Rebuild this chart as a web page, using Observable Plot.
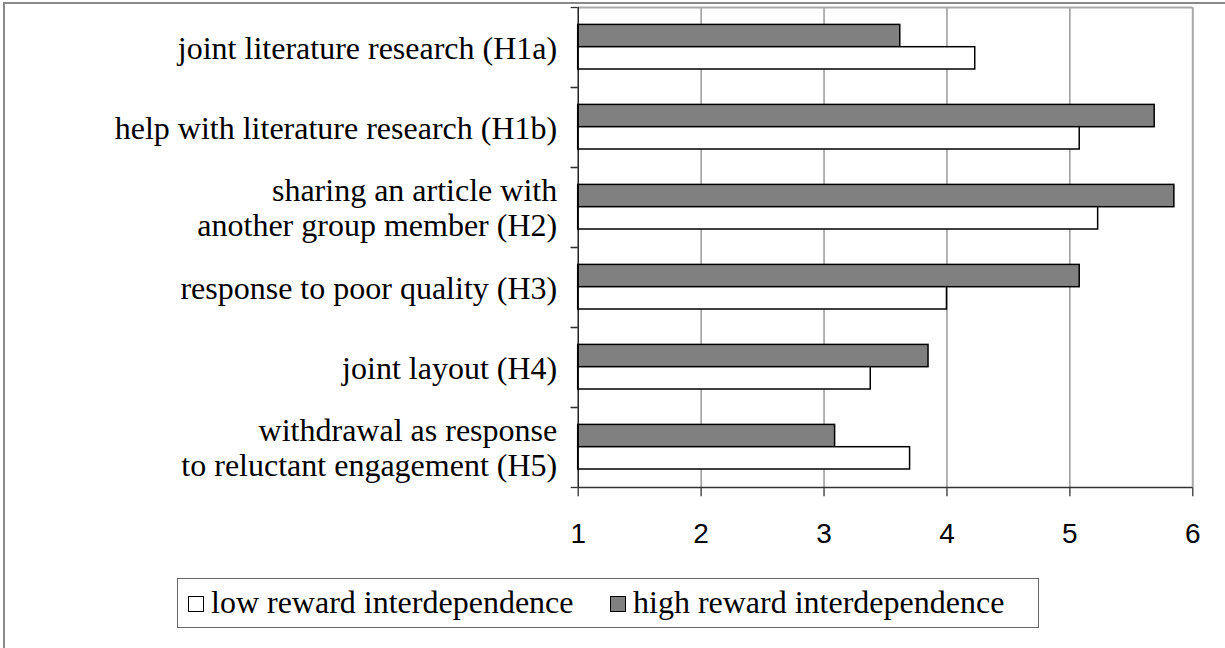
<!DOCTYPE html>
<html>
<head>
<meta charset="utf-8">
<script src="https://cdn.jsdelivr.net/npm/d3@7"></script>
<script src="https://cdn.jsdelivr.net/npm/@observablehq/plot@0.6"></script>
<style>
  html, body { margin: 0; padding: 0; background: #fff; }
  #wrap { position: relative; width: 1225px; height: 648px; overflow: hidden; }
  #outer { position: absolute; left: 3px; top: 2px; width: 1240px; height: 660px;
           border-top: 2px solid #8a8a8a; border-left: 2px solid #8a8a8a; box-sizing: border-box; }
  #chart { position: absolute; left: 0; top: 0; }
  #legend { position: absolute; left: 177px; top: 578px; width: 862px; height: 50px; box-sizing: border-box;
            border: 1.5px solid #666; font-family: "Liberation Serif", "Times New Roman", serif; font-size: 32px;
            color: #000; }
  .item { position: absolute; top: 0; height: 47px; display: flex; align-items: center; white-space: nowrap; }
  .sw { width: 16px; height: 16px; box-sizing: border-box; border: 1.5px solid #000; margin-right: 7px; margin-top: 2px; }
</style>
</head>
<body>
<div id="wrap">
  <div id="outer"></div>
  <div id="chart"></div>
  <div id="legend"></div>
</div>
<script>
const categories = [
  "joint literature research (H1a)",
  "help with literature research (H1b)",
  "sharing an article with\nanother group member (H2)",
  "response to poor quality (H3)",
  "joint layout (H4)",
  "withdrawal as response\nto reluctant engagement (H5)"
];
const seriesNames = ["low reward interdependence", "high reward interdependence"];
const seriesColors = ["#ffffff", "#808080"];
const lowValues  = [4.23, 5.08, 5.23, 4.00, 3.38, 3.70];
const highValues = [3.62, 5.69, 5.85, 5.08, 3.85, 3.09];
const xTicks = [1, 2, 3, 4, 5, 6];
const xMin = 1, xMax = 6;

const rows = [];
categories.forEach((c, i) => {
  rows.push({category: c, series: seriesNames[0], value: lowValues[i]});
  rows.push({category: c, series: seriesNames[1], value: highValues[i]});
});

const serif = '"Liberation Serif", "Times New Roman", serif';
const sans = '"Liberation Sans", Arial, sans-serif';

const chart = Plot.plot({
  width: 1225,
  height: 560,
  marginTop: 7.3,
  marginBottom: 72.7,
  marginLeft: 577.7,
  marginRight: 32.7,
  style: {background: "transparent", overflow: "visible"},
  x: {domain: [xMin, xMax], label: null},
  y: {domain: categories, padding: 0, axis: null, label: null},
  color: {domain: seriesNames, range: seriesColors},
  marks: [
    Plot.gridX(xTicks.filter(t => t > xMin && t < xMax), {stroke: "#808080", strokeOpacity: 1, strokeWidth: 1.2}),
    Plot.ruleX([xMax], {stroke: "#a8a8a8", strokeWidth: 2}),
    Plot.ruleY([categories[0]], {dy: -40, stroke: "#a8a8a8", strokeWidth: 2}),
    Plot.barX(rows.filter(d => d.series === seriesNames[1]), {
      y: "category", x1: xMin, x2: "value", fill: "series",
      stroke: "#000", strokeWidth: 1.5, insetTop: 17.4, insetBottom: 40.3
    }),
    Plot.barX(rows.filter(d => d.series === seriesNames[0]), {
      y: "category", x1: xMin, x2: "value", fill: "series",
      stroke: "#000", strokeWidth: 1.5, insetTop: 39.7, insetBottom: 18
    }),
    Plot.ruleY([categories[categories.length - 1]], {dy: 40, stroke: "#333", strokeWidth: 1.3}),
    Plot.ruleX([xMin], {stroke: "#000", strokeWidth: 1.3}),
    Plot.axisY(categories, {
      anchor: "left", label: null, tickSize: 0, tickPadding: 21, fontSize: 32, fontFamily: serif,
      fill: "#000", lineHeight: 1.1
    }),
    Plot.axisY(categories, {anchor: "left", label: null, tickSize: 7, tickFormat: () => "", dy: -40, stroke: "#333", strokeWidth: 1.3}),
    Plot.axisY(categories, {anchor: "left", label: null, tickSize: 7, tickFormat: () => "", dy: 40, stroke: "#333", strokeWidth: 1.3}),
    Plot.axisX(xTicks, {
      anchor: "bottom", label: null, tickSize: 9, tickPadding: 26, fontSize: 28, fontFamily: sans,
      fill: "#000", stroke: "#333", strokeWidth: 1.3, tickFormat: d => String(d)
    })
  ]
});
document.getElementById("chart").appendChild(chart);

const legend = document.getElementById("legend");
const legendX = [10, 432];
seriesNames.forEach((name, i) => {
  const item = document.createElement("div");
  item.className = "item";
  item.style.left = legendX[i] + "px";
  const sw = document.createElement("div");
  sw.className = "sw";
  sw.style.background = seriesColors[i];
  const label = document.createElement("span");
  label.textContent = name;
  item.appendChild(sw);
  item.appendChild(label);
  legend.appendChild(item);
});
</script>
</body>
</html>
